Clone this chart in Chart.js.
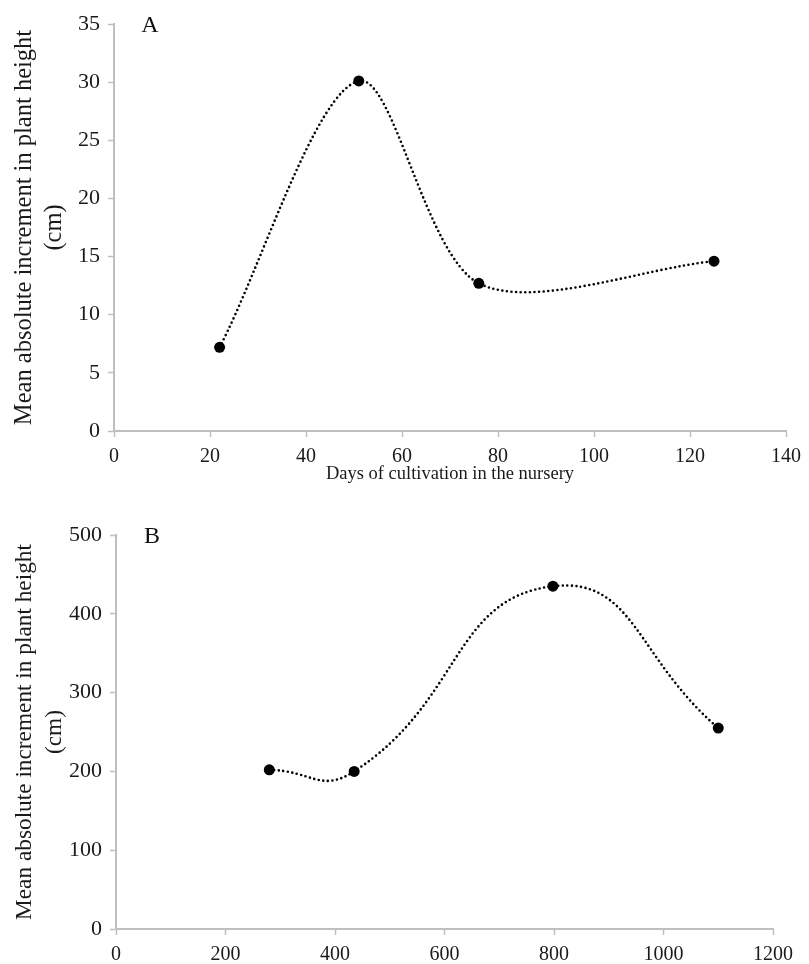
<!DOCTYPE html>
<html>
<head>
<meta charset="utf-8">
<title>Mean absolute increment in plant height</title>
<script src="https://cdn.jsdelivr.net/npm/chart.js@4.4.0/dist/chart.umd.min.js"></script>
<style>
    html, body { margin: 0; padding: 0; background: #ffffff; }
    .panel { position: relative; width: 809px; }
    #panelA { height: 485px; }
    #panelB { height: 479px; }
</style>
</head>
<body>
<div class="panel" id="panelA"><canvas id="chartA"></canvas></div>
<div class="panel" id="panelB"><canvas id="chartB"></canvas></div>

<script>
// --- DATA ---
// Panel A
const daysA = [22, 51, 76, 125];
const incrementA = [7.2, 30.1, 12.7, 14.6];
const xTicksA = [0, 20, 40, 60, 80, 100, 120, 140];
const yTicksA = [0, 5, 10, 15, 20, 25, 30, 35];

// Panel B
const daysB = [280, 435, 798, 1100];
const incrementB = [202, 200, 435, 255];
const xTicksB = [0, 200, 400, 600, 800, 1000, 1200];
const yTicksB = [0, 100, 200, 300, 400, 500];

const yTitle = ['Mean absolute increment in plant height', '(cm)'];
const xTitleA = 'Days of cultivation in the nursery';

// --- STYLE ---
const serif = "'Liberation Serif', 'Times New Roman', serif";
const axisGray = '#bfbfbf';
const textColor = '#1a1a1a';

// panel letter drawn in the top-left corner of the plot area
const panelLetter = {
    id: 'panelLetter',
    afterDraw(chart, args, opts) {
        const ctx = chart.ctx;
        const area = chart.chartArea;
        ctx.save();
        ctx.font = '24px ' + serif;
        ctx.fillStyle = '#111111';
        ctx.textAlign = 'center';
        ctx.textBaseline = 'middle';
        ctx.fillText(opts.text, area.left + 36, area.top + 2);
        ctx.restore();
    }
};

function makeChart(canvasId, xs, ys, cfg) {
    const points = xs.map((x, i) => ({ x: x, y: ys[i] }));
    const ctx = document.getElementById(canvasId).getContext('2d');

    return new Chart(ctx, {
        type: 'line',
        data: {
            datasets: [{
                data: points,
                borderColor: '#000000',
                borderWidth: 2.6,
                borderDash: [0, 4.6],
                borderCapStyle: 'round',
                tension: cfg.tension,
                fill: false,
                pointRadius: 5.5,
                pointBackgroundColor: '#000000',
                pointBorderColor: '#000000',
                pointBorderWidth: 0
            }]
        },
        options: {
            responsive: true,
            maintainAspectRatio: false,
            animation: false,
            layout: {
                padding: { left: 10, right: cfg.padRight, top: cfg.padTop, bottom: 0 }
            },
            plugins: {
                legend: { display: false },
                tooltip: { enabled: false },
                panelLetter: { text: cfg.letter }
            },
            scales: {
                x: {
                    type: 'linear',
                    min: cfg.xTicks[0],
                    max: cfg.xTicks[cfg.xTicks.length - 1],
                    afterBuildTicks: (scale) => { scale.ticks = cfg.xTicks.map(v => ({ value: v })); },
                    afterFit: (scale) => { scale.height = cfg.xHeight; },
                    grid: {
                        drawOnChartArea: false,
                        drawTicks: true,
                        tickLength: 6,
                        tickWidth: 1.5,
                        tickColor: axisGray
                    },
                    border: { display: true, color: axisGray, width: 2 },
                    ticks: {
                        color: textColor,
                        padding: 8,
                        maxRotation: 0,
                        callback: (v) => String(v),
                        font: { family: serif, size: 20 }
                    },
                    title: {
                        display: !!cfg.xTitle,
                        text: cfg.xTitle,
                        color: textColor,
                        padding: { top: 2, bottom: 0 },
                        font: { family: serif, size: 18.5 }
                    }
                },
                y: {
                    type: 'linear',
                    min: cfg.yTicks[0],
                    max: cfg.yTicks[cfg.yTicks.length - 1],
                    afterBuildTicks: (scale) => { scale.ticks = cfg.yTicks.map(v => ({ value: v })); },
                    afterFit: (scale) => { scale.width = cfg.yWidth; },
                    grid: {
                        drawOnChartArea: false,
                        drawTicks: true,
                        tickLength: 6,
                        tickWidth: 1.5,
                        tickColor: axisGray
                    },
                    border: { display: true, color: axisGray, width: 2 },
                    ticks: {
                        color: textColor,
                        padding: 8,
                        callback: (v) => String(v),
                        font: { family: serif, size: 22 }
                    },
                    title: {
                        display: true,
                        text: yTitle,
                        color: textColor,
                        padding: { top: 0, bottom: 0 },
                        font: { family: serif, size: cfg.yTitleSize, lineHeight: 30 / cfg.yTitleSize }
                    }
                }
            }
        },
        plugins: [panelLetter]
    });
}

// --- INIT ---
document.addEventListener('DOMContentLoaded', () => {
    makeChart('chartA', daysA, incrementA, {
        letter: 'A',
        xTicks: xTicksA,
        yTicks: yTicksA,
        xTitle: xTitleA,
        tension: 0.3,
        padTop: 24,
        padRight: 21,
        xHeight: 54,
        yWidth: 104,
        yTitleSize: 24.5
    });

    makeChart('chartB', daysB, incrementB, {
        letter: 'B',
        xTicks: xTicksB,
        yTicks: yTicksB,
        xTitle: '',
        tension: 0.5,
        padTop: 50,
        padRight: 36,
        xHeight: 35,
        yWidth: 106,
        yTitleSize: 23.3
    });
});
</script>
</body>
</html>
